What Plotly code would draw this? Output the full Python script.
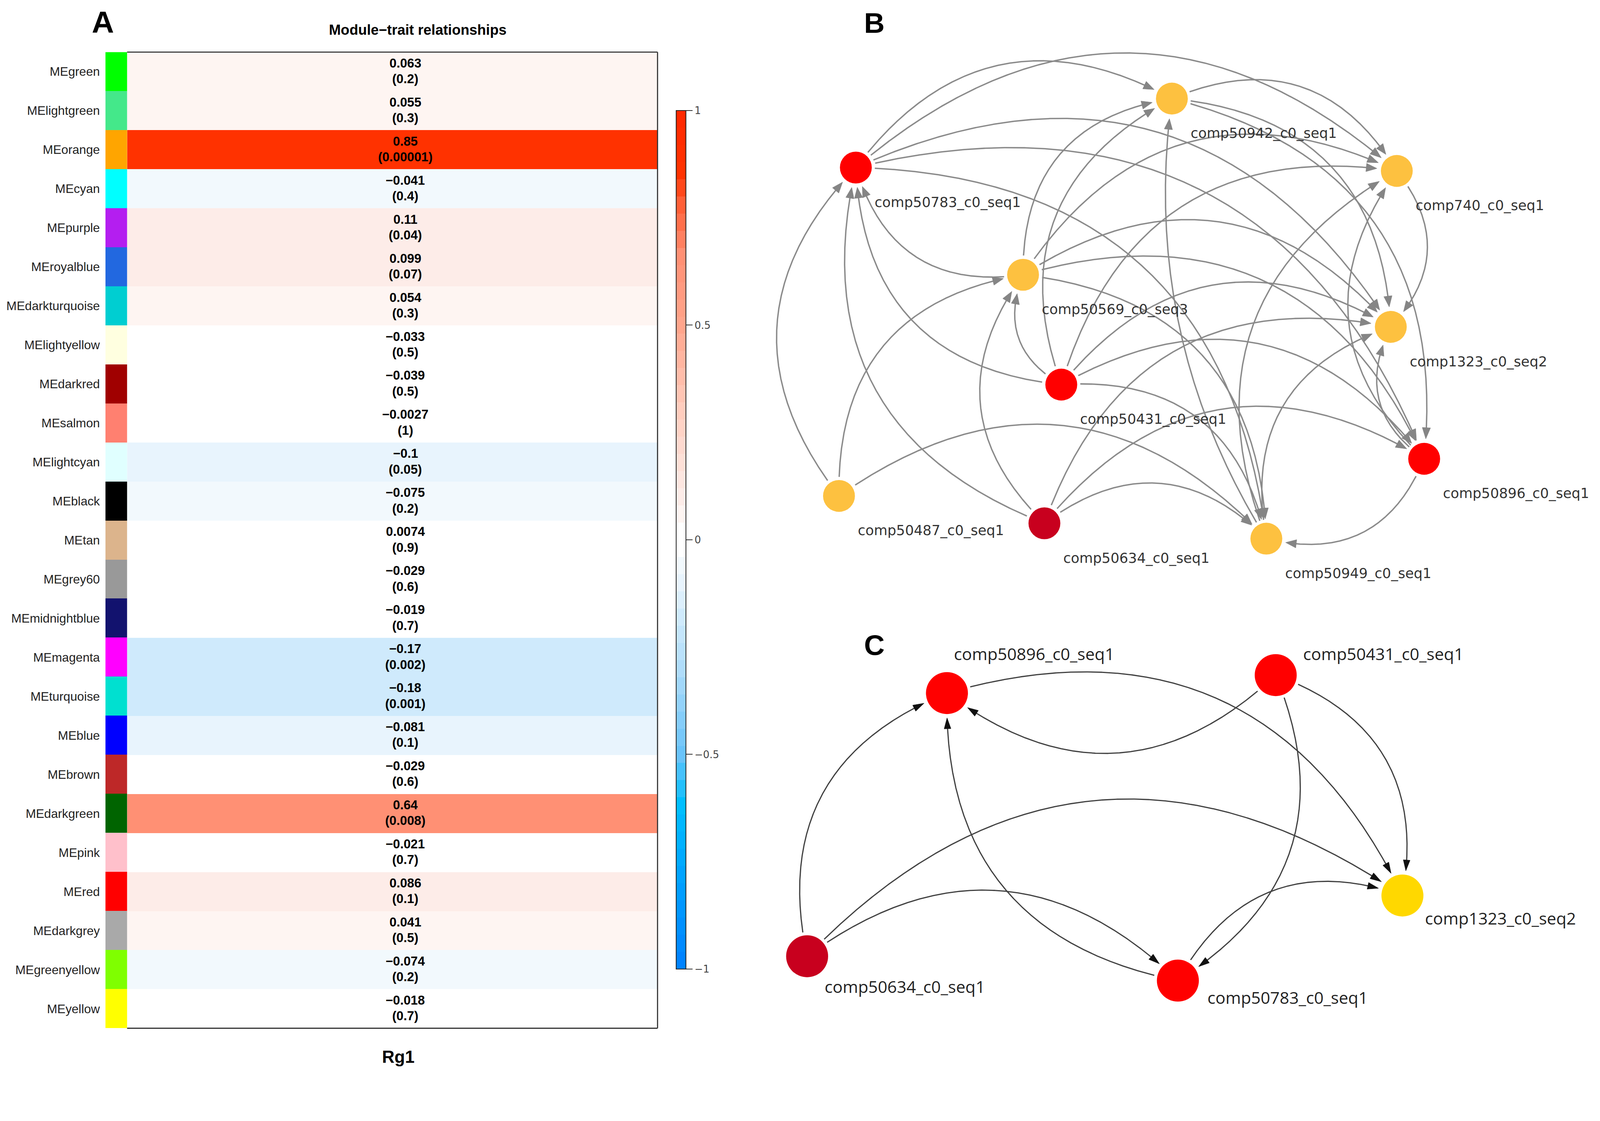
import numpy as np
import plotly.graph_objects as go

# target picture size and the browser's apparent zoom / body margin
IMG_W, IMG_H = 4264, 2870
F = 1.042          # picture px per CSS px (measured from the first render)
M = 8              # default body margin in CSS px
WF = int(round(IMG_W / F - M))
HF = int(round(IMG_H / F - M))

# ---------------- Panel A data ----------------
modules = ["MEgreen", "MElightgreen", "MEorange", "MEcyan", "MEpurple", "MEroyalblue",
           "MEdarkturquoise", "MElightyellow", "MEdarkred", "MEsalmon", "MElightcyan",
           "MEblack", "MEtan", "MEgrey60", "MEmidnightblue", "MEmagenta", "MEturquoise",
           "MEblue", "MEbrown", "MEdarkgreen", "MEpink", "MEred", "MEdarkgrey",
           "MEgreenyellow", "MEyellow"]
module_colors = ["#00FF00", "#44E88A", "#FFA500", "#00FFFF", "#B41EF0", "#2268E0",
                 "#00CED1", "#FFFFE0", "#A00000", "#FF8070", "#E0FFFF",
                 "#000000", "#DCB48C", "#999999", "#12126E", "#FF00FF", "#00E0D0",
                 "#0000FF", "#BE2828", "#006400", "#FFC0CB", "#FF0000", "#A9A9A9",
                 "#7FFF00", "#FFFF00"]
cor_values = [0.063, 0.055, 0.85, -0.041, 0.11, 0.099, 0.054, -0.033, -0.039, -0.0027,
              -0.1, -0.075, 0.0074, -0.029, -0.019, -0.17, -0.18, -0.081, -0.029, 0.64,
              -0.021, 0.086, 0.041, -0.074, -0.018]
p_values = ["0.2", "0.3", "0.00001", "0.4", "0.04", "0.07", "0.3", "0.5", "0.5", "1",
            "0.05", "0.2", "0.9", "0.6", "0.7", "0.002", "0.001", "0.1", "0.6", "0.008",
            "0.7", "0.1", "0.5", "0.2", "0.7"]
trait = "Rg1"
cbar_tickvals = [-1, -0.5, 0, 0.5, 1]
cbar_ticktext = ["\u22121", "\u22120.5", "0", "0.5", "1"]

# ---------------- Panel B data ----------------
b_keys = ["50942", "50783", "740", "50569", "1323", "50431", "50896", "50487", "50634", "50949"]
b_labels = ["comp50942_c0_seq1", "comp50783_c0_seq1", "comp740_c0_seq1", "comp50569_c0_seq3",
            "comp1323_c0_seq2", "comp50431_c0_seq1", "comp50896_c0_seq1", "comp50487_c0_seq1",
            "comp50634_c0_seq1", "comp50949_c0_seq1"]
b_node_x = [3126, 2283, 3726, 2729, 3710, 2831, 3799, 2238, 2786, 3378]
b_node_y = [263, 447, 456, 733, 872, 1026, 1224, 1323, 1396, 1437]
b_node_colors = ["#FDC140", "#FF0000", "#FDC140", "#FDC140", "#FDC140", "#FF0000",
                 "#FF0000", "#FDC140", "#C8001E", "#FDC140"]
b_edges = [
    ("50783", "50942"), ("50783", "740"), ("50783", "1323"), ("50783", "50896"), ("50783", "50949"),
    ("50569", "50942"), ("50569", "50783"), ("50569", "740"), ("50569", "1323"), ("50569", "50896"),
    ("50569", "50949"),
    ("50431", "50942"), ("50431", "740"), ("50431", "1323"), ("50431", "50896"), ("50431", "50949"),
    ("50431", "50783"), ("50431", "50569"),
    ("50487", "50783"), ("50487", "50569"), ("50487", "50949"),
    ("50634", "50783"), ("50634", "50569"), ("50634", "1323"), ("50634", "50896"), ("50634", "50949"),
    ("50942", "740"), ("50942", "1323"), ("50942", "50896"),
    ("50949", "50942"), ("50949", "740"), ("50949", "1323"),
    ("50896", "740"), ("50896", "1323"), ("50896", "50949"),
    ("740", "1323"),
]
b_bend_override = {("50949", "50942"): 0.18}

# ---------------- Panel C data ----------------
c_keys = ["50896", "50431", "1323", "50634", "50783"]
c_labels = ["comp50896_c0_seq1", "comp50431_c0_seq1", "comp1323_c0_seq2",
            "comp50634_c0_seq1", "comp50783_c0_seq1"]
c_node_x = [2526, 3403, 3741, 2153, 3142]
c_node_y = [1849, 1801, 2389, 2551, 2616]
c_node_colors = ["#FF0000", "#FF0000", "#FFD800", "#C8001E", "#FF0000"]
c_label_dx = [16, 71, 58, 45, 77]
c_label_dy = [-105, -57, 60, 81, 45]
c_edges = [("50634", "50896"), ("50431", "50896"), ("50896", "1323"), ("50431", "1323"),
           ("50431", "50783"), ("50783", "50896"), ("50634", "1323"), ("50634", "50783"),
           ("50783", "1323")]

FONT = "Liberation Sans, Arial, sans-serif"


def px(x):
    """picture x (px) -> paper fraction"""
    return (x / F - M) / WF


def py(y):
    """picture y (px, from top) -> paper fraction"""
    return 1 - (y / F - M) / HF


def S(v):
    """picture px size -> CSS px size"""
    return v / F


# ---------- stepped colour scale (50 bins, WGCNA-like) ----------
anchor_v = [-1.0, -0.8, -0.62, -0.5, -0.3, -0.18, -0.10, -0.06, -0.02, 0.02, 0.06, 0.10,
            0.3, 0.5, 0.66, 0.78, 0.86, 1.0]
anchor_rgb = np.array([(0, 128, 255), (0, 160, 255), (0, 190, 255), (105, 195, 250),
                       (175, 220, 250), (207, 234, 252), (232, 244, 253), (242, 249, 253),
                       (255, 255, 255), (255, 255, 255), (254, 245, 242), (253, 236, 232),
                       (255, 205, 190), (255, 165, 140), (255, 144, 116), (255, 95, 55),
                       (255, 50, 0), (255, 40, 0)], float)
colorscale = []
nb = 50
for k in range(nb):
    c = -1 + (k + 0.5) * 2 / nb
    rgb = [int(round(np.interp(c, anchor_v, anchor_rgb[:, j]))) for j in range(3)]
    col = "rgb(%d,%d,%d)" % tuple(rgb)
    colorscale.append([k / nb, col])
    colorscale.append([(k + 1) / nb, col])

fig = go.Figure()

fig.add_trace(go.Heatmap(
    z=[[v] for v in cor_values], x=[trait], y=modules, zmin=-1, zmax=1,
    colorscale=colorscale, xaxis="x", yaxis="y", hoverinfo="skip",
    colorbar=dict(x=px(1804), xanchor="left", xpad=0, ypad=0,
                  y=py(1440), yanchor="middle", len=S(2290), lenmode="pixels",
                  thickness=S(26), thicknessmode="pixels",
                  outlinewidth=2, outlinecolor="#222",
                  tickvals=cbar_tickvals, ticktext=cbar_ticktext,
                  ticks="outside", ticklen=S(17), tickwidth=2, tickcolor="#333",
                  tickfont=dict(family="DejaVu Sans", size=S(27), color="#444")),
))

fig.add_trace(go.Bar(
    x=[1] * len(modules), y=modules, orientation="h", width=1,
    marker=dict(color=module_colors, line=dict(width=0)),
    xaxis="x3", yaxis="y", hoverinfo="skip", showlegend=False,
))

annotations = []
cell_font = dict(family=FONT, size=S(34), color="black", weight="bold")
for m, v, p in zip(modules, cor_values, p_values):
    annotations.append(dict(x=0, y=m, xref="x", yref="y", text=repr(v).replace("-", "\u2212"),
                            showarrow=False, xshift=S(35), yshift=S(23), borderpad=0,
                            font=cell_font))
    annotations.append(dict(x=0, y=m, xref="x", yref="y", text="(" + p + ")",
                            showarrow=False, xshift=S(35), yshift=S(-19), borderpad=0,
                            font=cell_font))

annotations.append(dict(x=0, y=py(2819), xref="x", yref="paper", text=trait, showarrow=False,
                        xshift=S(16), yanchor="middle",
                        font=dict(family=FONT, size=S(46), color="black", weight="bold")))
annotations.append(dict(x=px(1114), y=py(80), xref="paper", yref="paper",
                        text="Module\u2212trait relationships", showarrow=False,
                        xanchor="center", yanchor="middle",
                        font=dict(family=FONT, size=S(38), color="black", weight="bold")))
for letter, lx, ly, sz in [("A", 275, 59, 82), ("B", 2332, 61, 76), ("C", 2332, 1721, 76)]:
    annotations.append(dict(x=px(lx), y=py(ly), xref="paper", yref="paper", text=letter,
                            showarrow=False, xanchor="center", yanchor="middle",
                            font=dict(family=FONT, size=S(sz), color="black", weight="bold")))


def draw_network(keys, xs, ys, colors, edges, bend, overrides, r, gap_s, gap_t,
                 alen, aw, lcolor, lwidth, acolor):
    pos = {k: np.array([x, y], float) for k, x, y in zip(keys, xs, ys)}
    lx, ly, tx, ty = [], [], [], []
    for s, t in edges:
        kb = overrides.get((s, t), bend)
        p0, p2 = pos[s], pos[t]
        d = p2 - p0
        L = np.hypot(*d)
        left = np.array([d[1], -d[0]]) / L
        c = (p0 + p2) / 2 + kb * L * left
        tt = np.linspace(0, 1, 800)[:, None]
        pts = (1 - tt) ** 2 * p0 + 2 * (1 - tt) * tt * c + tt ** 2 * p2
        ds = np.hypot(*(pts - p0).T)
        de = np.hypot(*(pts - p2).T)
        i0 = int(np.argmax(ds >= r + gap_s))
        i1 = len(pts) - 1 - int(np.argmax((de >= r + gap_t)[::-1]))
        seg = pts[i0:i1 + 1]
        tip = seg[-1]
        db = np.hypot(*(seg - tip).T)
        ib = len(seg) - 1 - int(np.argmax((db >= alen)[::-1]))
        base = seg[ib]
        u = (tip - base) / np.hypot(*(tip - base))
        n = np.array([-u[1], u[0]])
        line = np.vstack([seg[:ib + 1], base + u * 3])
        lx += list(line[:, 0]) + [None]
        ly += list(line[:, 1]) + [None]
        tri = [tip, base + aw * n, base - aw * n, tip]
        tx += [q[0] for q in tri] + [None]
        ty += [q[1] for q in tri] + [None]
    fig.add_trace(go.Scatter(x=lx, y=ly, mode="lines", xaxis="x2", yaxis="y2",
                             line=dict(color=lcolor, width=S(lwidth)), hoverinfo="skip",
                             showlegend=False))
    fig.add_trace(go.Scatter(x=tx, y=ty, mode="lines", fill="toself", fillcolor=acolor,
                             xaxis="x2", yaxis="y2", line=dict(color=acolor, width=1),
                             hoverinfo="skip", showlegend=False))
    fig.add_trace(go.Scatter(x=xs, y=ys, mode="markers", xaxis="x2", yaxis="y2",
                             marker=dict(size=S(2 * r), color=colors, line=dict(width=0)),
                             hoverinfo="skip", showlegend=False))


draw_network(b_keys, b_node_x, b_node_y, b_node_colors, b_edges, 0.43, b_bend_override,
             r=42.5, gap_s=8, gap_t=10, alen=28, aw=11, lcolor="#8A8A8A", lwidth=3.7,
             acolor="#858585")
draw_network(c_keys, c_node_x, c_node_y, c_node_colors, c_edges, 0.42, {},
             r=56, gap_s=8, gap_t=10, alen=28, aw=9, lcolor="#404040", lwidth=3.2,
             acolor="#111111")

for lab, x, y in zip(b_labels, b_node_x, b_node_y):
    annotations.append(dict(x=x + 48, y=y + 92, xref="x2", yref="y2", text=lab,
                            showarrow=False, xanchor="left", yanchor="middle",
                            font=dict(family="DejaVu Sans", size=S(37), color="#333")))
for lab, x, y, dx, dy in zip(c_labels, c_node_x, c_node_y, c_label_dx, c_label_dy):
    annotations.append(dict(x=x + dx, y=y + dy, xref="x2", yref="y2", text=lab,
                            showarrow=False, xanchor="left", yanchor="middle",
                            font=dict(family="Open Sans", size=S(44.5), color="#222")))

shapes = []
for (x0, y0, x1, y1) in [(0, 1, 1, 1), (1, 0, 1, 1), (0, 0, 1, 0)]:
    shapes.append(dict(type="line", xref="x domain", yref="y domain", x0=x0, y0=y0,
                       x1=x1, y1=y1, line=dict(color="#333", width=S(3))))

x2_left = 2050
x2_right = (WF + M) * F
y2_bottom = (HF + M) * F
y2_top = M * F

fig.update_layout(
    width=WF, height=HF, margin=dict(l=0, r=0, t=0, b=0),
    paper_bgcolor="white", plot_bgcolor="white", showlegend=False,
    bargap=0,
    xaxis=dict(domain=[px(339), px(1754)], anchor="y", showticklabels=False, showgrid=False,
               zeroline=False, showline=False, ticks="", fixedrange=True),
    yaxis=dict(domain=[py(2743), py(139)], anchor="free", position=px(281),
               type="category", categoryorder="array", categoryarray=modules,
               autorange="reversed", showgrid=False, zeroline=False, showline=False,
               ticks="outside", ticklen=S(8), tickcolor="rgba(0,0,0,0)",
               tickfont=dict(family=FONT, size=S(33), color="#222"), fixedrange=True),
    xaxis3=dict(domain=[px(281), px(339)], anchor="y", range=[0, 1], visible=False,
                fixedrange=True),
    xaxis2=dict(domain=[px(x2_left), 1], anchor="y2", range=[x2_left, x2_right],
                visible=False, fixedrange=True),
    yaxis2=dict(domain=[0, 1], anchor="x2", range=[y2_bottom, y2_top], visible=False,
                fixedrange=True),
    annotations=annotations, shapes=shapes,
)

fig.write_html("out.html")
